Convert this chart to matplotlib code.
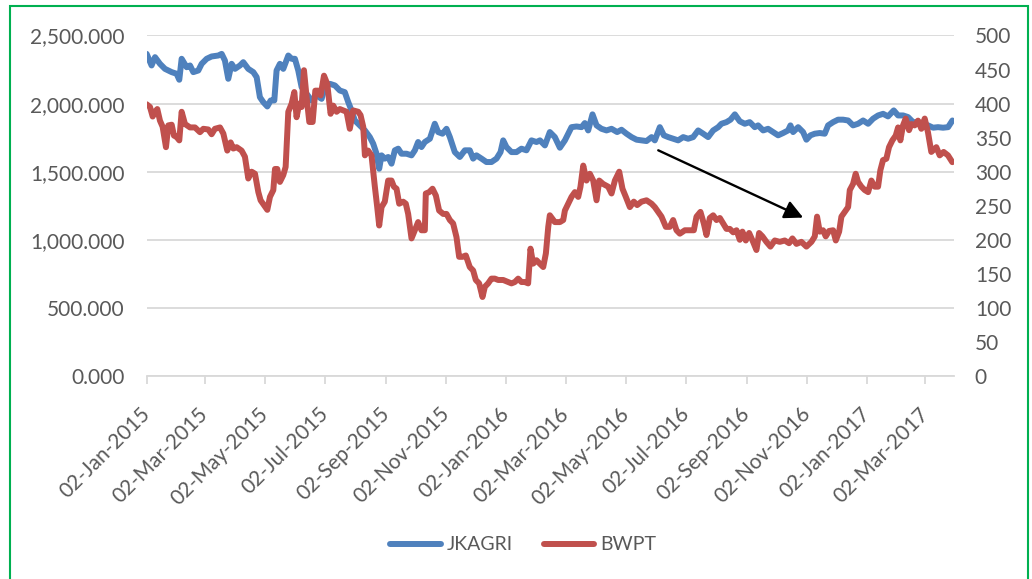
import matplotlib
matplotlib.use('Agg')
import matplotlib.pyplot as plt
import matplotlib.dates as mdates
import matplotlib.ticker as mticker
from matplotlib.patches import Rectangle
import pandas as pd

plt.rcParams['font.family'] = ['Lato', 'DejaVu Sans']

# x values are days after 02-Jan-2015
base_date = pd.Timestamp('2015-01-02')
end_date = pd.Timestamp('2017-03-31')

# JKAGRI (left axis)
jk_days = [0, 5, 8.5, 13.5, 18.6, 25.4, 30.4, 33.1, 35.5, 40.6, 44, 47.3, 52.4, 55.8, 60.9, 65.9,
           72.7, 76.1, 79.4, 82.8, 86.2, 89.6, 94.7, 98, 103.1, 108.2, 111.6, 114.9, 118.3, 122.4,
           125.8, 129.5, 131.8, 135.2, 138.6, 143.7, 147.1, 150.4, 153.8, 157.2, 162.3, 167.3,
           172.4, 177.5, 180.9, 186, 191, 196, 201, 204.5, 207.8, 211.2, 216.3, 221.4, 226.4,
           229.8, 233.2, 235.9, 238.3, 241.6, 245, 248.4, 251.8, 255.2, 258.5, 263.6, 268.7,
           272.1, 275.4, 278.8, 282.2, 287.3, 292.3, 295.7, 300.1, 304.2, 307.6, 312.6, 317.7,
           322.8, 327.8, 331.2, 334.6, 339.7, 344.7, 349.8, 354.9, 359, 361.7, 365, 370.1, 375.2,
           380.2, 385.3, 390.4, 395.5, 399, 404, 409, 414.1, 419.2, 424.3, 431, 436.1, 441.2,
           444.5, 447.9, 452.3, 456.4, 461.4, 466.5, 471.6, 477.3, 481.7, 486.8, 491.9, 497, 502,
           507.1, 512.2, 515.5, 520.6, 524.7, 529.1, 534.1, 539.2, 544.3, 549.3, 554.4, 559.5,
           564.6, 569.6, 574.7, 579.8, 583.1, 588.2, 592.3, 596.7, 601.7, 606.8, 611.8, 616.9,
           620.3, 625.4, 630.4, 635.5, 640.6, 645.7, 650.7, 653.1, 655.8, 660.9, 665.9, 669.3,
           673.4, 677.8, 682.8, 687.9, 691.3, 696.4, 701.4, 706.5, 711.6, 716.6, 721.7, 726.8,
           731.9, 736.9, 742, 747.1, 752.1, 757.9, 762.3, 767.4, 772.4, 777.5, 782.6, 787.6,
           792.7, 797.8, 802.8, 807.9, 813, 817.4]
jk_vals = [2365, 2280, 2341, 2292, 2255, 2231, 2219, 2175, 2329, 2267, 2280, 2231, 2243, 2292, 2329, 2346,
           2353, 2365, 2316, 2182, 2292, 2255, 2280, 2304, 2255, 2231, 2194, 2047, 2011, 1979,
           2023, 2023, 2243, 2292, 2255, 2353, 2329, 2329, 2243, 2121, 2072, 2023,
           2060, 2035, 2121, 2145, 2133, 2096, 2084, 2011, 1950, 1876, 1840, 1803, 1754,
           1706, 1632, 1522, 1620, 1596, 1608, 1559, 1657, 1669, 1632, 1632, 1620,
           1657, 1718, 1681, 1718, 1742, 1852, 1791, 1779, 1815, 1754, 1644, 1608,
           1657, 1657, 1596, 1620, 1596, 1571, 1571, 1596, 1644, 1730, 1681, 1644, 1644,
           1669, 1657, 1730, 1718, 1730, 1693, 1791, 1754, 1676, 1730, 1827, 1832, 1827,
           1857, 1803, 1921, 1840, 1815, 1803, 1815, 1791, 1808, 1779, 1754, 1735, 1730,
           1725, 1754, 1730, 1827, 1767, 1754, 1742, 1730, 1754, 1742, 1754, 1803,
           1779, 1754, 1803, 1827, 1852, 1864, 1882, 1921, 1870, 1852, 1864, 1827,
           1840, 1803, 1815, 1791, 1767, 1784, 1803, 1840, 1791, 1827, 1791, 1735,
           1767, 1779, 1784, 1779, 1840, 1864, 1882, 1882, 1876, 1840, 1852, 1876,
           1852, 1889, 1913, 1925, 1906, 1950, 1913, 1913, 1901, 1864, 1864, 1852,
           1840, 1823, 1827, 1823, 1827, 1876]

# BWPT (right axis)
bw_days = [0, 3.4, 6.1, 8.5, 10.8, 13.5, 16.2, 19.6, 22, 25.4, 27.7, 30.4, 33.1, 35.5, 38.9, 44, 49,
           54.1, 57.5, 62.5, 65.9, 69.3, 74.4, 77.8, 81.8, 85.2, 87.9, 91.3, 96.3, 99.7, 103.1,
           106.5, 109.9, 113.3, 115.6, 119, 122.4, 125.1, 128.5, 130.2, 132.5, 135.2, 138.6, 141,
           143.7, 147.1, 149.8, 152.1, 154.8, 157.2, 159.6, 162.3, 165, 168.4, 171.1, 174.1,
           176.5, 179.9, 183.2, 186.6, 189.3, 192.7, 196, 202.8, 206.1, 209.5, 214.6, 217, 219.7,
           221.4, 224.7, 228.1, 231.5, 233.9, 235.9, 238.3, 241.6, 245, 248.4, 250.8, 253.5,
           256.2, 260.2, 262.9, 265.3, 268.7, 272.1, 275.4, 278.8, 282.2, 283.2, 286.6, 290,
           293.4, 296.7, 300.8, 304.2, 307.6, 310.9, 314.3, 317, 320.4, 323.8, 327.8, 331.2,
           333.9, 337.3, 340.7, 343.1, 346.4, 349.8, 353.2, 356.6, 361.7, 366.7, 370.1, 373.5,
           376.9, 380.2, 383.6, 387, 389.4, 392.1, 395.5, 398.8, 402.3, 405, 407.4, 409, 414.1,
           419.2, 422.6, 424.3, 427.6, 431, 434.4, 437.8, 440.1, 442.9, 446.2, 449.6, 453,
           456.4, 459.1, 463.1, 468.2, 471.6, 475, 479.4, 482.7, 486.1, 490.2, 494.2, 497.6,
           502, 507.1, 512.2, 515.5, 518.9, 522.3, 526.7, 530.7, 534.1, 537.5, 540.9, 546, 551,
           555.1, 557.8, 561.8, 565.2, 567.9, 571.3, 574.7, 578.1, 581.5, 584.8, 588.2, 591.6,
           595, 598.4, 601.7, 604.4, 607.8, 611.2, 615.2, 618.6, 621.3, 624.7, 628.7, 632.8,
           637.2, 642.3, 647.3, 651.7, 655.1, 659.2, 664.2, 669.3, 674.4, 677.8, 680.1, 682.8,
           686.2, 688.9, 692.3, 696.4, 699.1, 702.5, 704.8, 708.2, 711.6, 713.3, 716.6, 719.3,
           721.7, 725.1, 728.5, 731.9, 735.2, 738.6, 742, 744.3, 747, 750.4, 753.1, 756.5, 759.9,
           762.3, 764.6, 767.3, 770, 773.4, 775.8, 779.1, 782.5, 785.9, 789.3, 792.6, 796, 801.1,
           804.5, 808.5, 812.9, 817.3]
bw_vals = [399, 395, 381, 388, 392, 375, 366, 336, 368, 369, 353, 351, 346, 388, 370, 365, 365,
           358, 363, 362, 355, 363, 365, 356, 331, 343, 334, 336, 331, 322, 290,
           300, 297, 270, 258, 251, 244, 263, 273, 304, 304, 285, 295, 307,
           388, 400, 417, 380, 400, 395, 449, 409, 373, 373, 419, 419,
           412, 441, 429, 385, 397, 388, 392, 388, 363, 390, 388, 383, 366,
           324, 331, 324, 278, 248, 221, 248, 256, 287, 287, 278, 275,
           253, 256, 253, 238, 202, 214, 226, 214, 214, 268, 270, 275,
           265, 243, 238, 238, 229, 224, 204, 175, 175, 177, 160, 155,
           141, 136, 116, 131, 136, 143, 143, 141, 141, 138, 136, 138,
           143, 138, 138, 136, 187, 165, 170, 165, 160, 180, 219, 236, 226,
           226, 229, 243, 253, 263, 270, 263, 278, 309, 287, 297, 287,
           258, 287, 282, 278, 268, 287, 300, 275, 263, 248, 256, 251,
           256, 258, 253, 248, 241, 234, 219, 219, 229, 214, 209, 214, 214,
           214, 234, 241, 224, 207, 232, 236, 229, 232, 224, 216, 216,
           211, 214, 200, 212, 199, 210, 197, 185, 210, 205, 197, 190,
           199, 197, 199, 195, 202, 194, 197, 190, 197, 205, 234, 212,
           214, 205, 213, 214, 199, 212, 234, 241, 248, 273, 282, 297,
           285, 278, 273, 270, 287, 278, 278, 302, 317, 319, 336, 346, 353,
           365, 346, 368, 378, 361, 370, 368, 375, 363, 378, 358, 329, 336,
           324, 329, 324, 314]

tick_dates = ['2015-01-02', '2015-03-02', '2015-05-02', '2015-07-02', '2015-09-02', '2015-11-02',
              '2016-01-02', '2016-03-02', '2016-05-02', '2016-07-02', '2016-09-02', '2016-11-02',
              '2017-01-02', '2017-03-02']

# arrow (days, left axis value)
arrow_start = (519, 1657)
arrow_end = (666, 1163)

jk_dates = base_date + pd.to_timedelta(jk_days, unit='D')
bw_dates = base_date + pd.to_timedelta(bw_days, unit='D')

fig = plt.figure(figsize=(10.32, 5.79), dpi=100)
ax = fig.add_axes([0.1421, 0.3506, 0.7823, 0.5881])
ax2 = ax.twinx()

l1, = ax.plot(jk_dates, jk_vals, color='#4F81BD', lw=4.3, solid_joinstyle='round',
              solid_capstyle='round', label='JKAGRI')
l2, = ax2.plot(bw_dates, bw_vals, color='#C0504D', lw=4.3, solid_joinstyle='round',
               solid_capstyle='round', label='BWPT')

ax.set_xlim(base_date, end_date)
ax.set_ylim(0, 2500)
ax2.set_ylim(0, 500)

ax.set_yticks(range(0, 2501, 500))
ax.yaxis.set_major_formatter(mticker.FuncFormatter(lambda v, p: f'{v:,.3f}'))
ax2.set_yticks(range(0, 501, 50))

ax.grid(axis='y', color='#D9D9D9', lw=1.3)
ax.set_axisbelow(True)

for a in (ax, ax2):
    for s in ('top', 'left', 'right'):
        a.spines[s].set_visible(False)
ax2.spines['bottom'].set_visible(False)
ax.spines['bottom'].set_color('#D9D9D9')
ax.spines['bottom'].set_linewidth(1.3)

ax.tick_params(axis='y', length=0, pad=16, labelsize=15, labelcolor='#595959')
ax2.tick_params(axis='y', length=0, pad=15, labelsize=15, labelcolor='#595959')

ax.set_xticks(pd.to_datetime(tick_dates))
ax.xaxis.set_major_formatter(mdates.DateFormatter('%d-%b-%Y'))
ax.tick_params(axis='x', length=6, width=1.3, color='#D9D9D9', labelsize=15,
               labelcolor='#595959', pad=19)
for lbl in ax.get_xticklabels():
    lbl.set_rotation(45)
    lbl.set_ha('right')
    lbl.set_va('center')
    lbl.set_rotation_mode('anchor')

ax.annotate('', xy=(base_date + pd.Timedelta(days=arrow_end[0]), arrow_end[1]),
            xytext=(base_date + pd.Timedelta(days=arrow_start[0]), arrow_start[1]),
            arrowprops=dict(arrowstyle='-|>', color='black', lw=1.7, mutation_scale=28,
                            shrinkA=0, shrinkB=0), zorder=10)

fig.legend([l1, l2], ['JKAGRI', 'BWPT'], loc='center', bbox_to_anchor=(0.507, 0.059),
           ncol=2, frameon=False, fontsize=14, handlelength=2.6, columnspacing=1.6,
           handletextpad=0.3, labelcolor='#595959')

border = Rectangle((9.5 / 1032, -0.1), 1018 / 1032, 1.1 - 6.5 / 579, transform=fig.transFigure,
                   fill=False, edgecolor='#00B050', lw=1.5, clip_on=False)
fig.add_artist(border)

fig.savefig('out.png', dpi=100)
